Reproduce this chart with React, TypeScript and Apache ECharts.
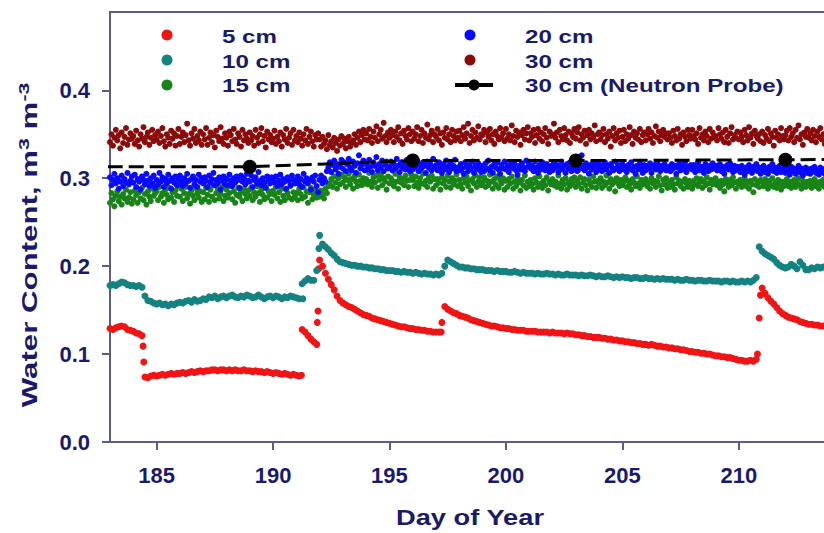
import React, { useEffect, useRef } from "react";
import * as echarts from "echarts";

// ---- data ----
// Sensor series start at day 183. Smooth series: step 0.125 day (8 values per row = 1 day).
// Noisy series: step 0.0625 day (16 values per row = 1 day).
const START_DAY = 183;
const STEP_SMOOTH = 0.125;
const STEP_DENSE = 0.0625;

const cm5: (number | null)[] = [
  0.129, 0.128, 0.130, 0.131, 0.132, 0.131, 0.128, 0.127, // 183
  0.126, 0.124, 0.123, 0.121, 0.074, 0.073, 0.075, 0.076, // 184
  0.075, 0.076, 0.077, 0.076, 0.077, 0.078, 0.077, 0.078, // 185
  0.078, 0.079, 0.078, 0.079, 0.080, 0.079, 0.080, 0.081, // 186
  0.080, 0.081, 0.081, 0.082, 0.082, 0.081, 0.082, 0.082, // 187
  0.081, 0.082, 0.081, 0.082, 0.081, 0.081, 0.082, 0.081, // 188
  0.081, 0.080, 0.081, 0.080, 0.080, 0.079, 0.080, 0.079, // 189
  0.078, 0.079, 0.078, 0.077, 0.078, 0.077, 0.076, 0.077, // 190
  0.076, 0.075, 0.128, 0.125, 0.121, 0.117, 0.114, 0.111, // 191
  0.207, 0.200, 0.192, 0.185, 0.179, 0.173, 0.166, 0.161, // 192
  0.158, 0.156, 0.154, 0.153, 0.151, 0.149, 0.147, 0.145, // 193
  0.144, 0.143, 0.141, 0.140, 0.139, 0.138, 0.137, 0.136, // 194
  0.135, 0.134, 0.133, 0.132, 0.131, 0.131, 0.130, 0.129, // 195
  0.129, 0.128, 0.128, 0.127, 0.127, 0.126, 0.126, 0.125, // 196
  0.125, 0.125, 0.136, 0.154, 0.151, 0.149, 0.147, 0.146, // 197
  0.144, 0.143, 0.142, 0.141, 0.139, 0.138, 0.137, 0.136, // 198
  0.135, 0.134, 0.133, 0.132, 0.132, 0.131, 0.130, 0.130, // 199
  0.129, 0.129, 0.128, 0.128, 0.127, 0.127, 0.127, 0.126, // 200
  0.126, 0.126, 0.126, 0.125, 0.125, 0.125, 0.125, 0.124, // 201
  0.125, 0.124, 0.124, 0.124, 0.123, 0.124, 0.123, 0.123, // 202
  0.122, 0.122, 0.121, 0.121, 0.120, 0.120, 0.119, 0.119, // 203
  0.119, 0.118, 0.118, 0.117, 0.117, 0.116, 0.116, 0.115, // 204
  0.115, 0.114, 0.114, 0.113, 0.113, 0.112, 0.112, 0.111, // 205
  0.111, 0.110, 0.111, 0.110, 0.109, 0.109, 0.108, 0.108, // 206
  0.107, 0.107, 0.106, 0.106, 0.105, 0.105, 0.104, 0.103, // 207
  0.103, 0.102, 0.102, 0.101, 0.101, 0.100, 0.100, 0.099, // 208
  0.098, 0.098, 0.097, 0.097, 0.096, 0.096, 0.095, 0.094, // 209
  0.093, 0.093, 0.092, 0.092, 0.093, 0.092, 0.094, 0.141, // 210
  0.175, 0.169, 0.164, 0.160, 0.157, 0.153, 0.149, 0.146, // 211
  0.144, 0.142, 0.141, 0.140, 0.139, 0.137, 0.136, 0.135, // 212
  0.134, 0.134, 0.133, 0.133, 0.132, 0.132, 0.132, 0.131, // 213
];
// isolated readings during the wetting/drying jumps: [day, value]
const cm5Extra: [number, number][] = [
  [184.42, 0.109], [184.45, 0.091], [191.22, 0.076], [191.9, 0.136],
  [191.93, 0.149], [191.96, 0.197], [197.22, 0.125], [210.8, 0.1], [210.93, 0.167],
];

const cm10: (number | null)[] = [
  0.178, 0.179, 0.178, 0.180, 0.182, 0.181, 0.179, 0.178, // 183
  0.178, 0.177, 0.178, 0.176, 0.166, 0.161, 0.160, 0.158, // 184
  0.157, 0.158, 0.156, 0.157, 0.155, 0.157, 0.156, 0.158, // 185
  0.159, 0.158, 0.160, 0.161, 0.159, 0.162, 0.160, 0.161, // 186
  0.163, 0.162, 0.165, 0.164, 0.166, 0.163, 0.165, 0.166, // 187
  0.164, 0.166, 0.167, 0.165, 0.164, 0.166, 0.165, 0.167, // 188
  0.166, 0.164, 0.165, 0.167, 0.165, 0.163, 0.165, 0.166, // 189
  0.164, 0.166, 0.165, 0.163, 0.165, 0.164, 0.166, 0.165, // 190
  0.164, 0.163, 0.180, 0.183, 0.186, 0.184, 0.184, 0.195, // 191
  0.235, 0.225, 0.222, 0.219, 0.215, 0.212, 0.208, 0.205, // 192
  0.204, 0.203, 0.202, 0.201, 0.201, 0.200, 0.200, 0.199, // 193
  0.199, 0.198, 0.198, 0.197, 0.197, 0.196, 0.196, 0.195, // 194
  0.195, 0.195, 0.194, 0.194, 0.193, 0.194, 0.193, 0.193, // 195
  0.192, 0.193, 0.192, 0.191, 0.192, 0.191, 0.191, 0.190, // 196
  0.191, 0.190, 0.192, 0.200, 0.207, 0.205, 0.203, 0.201, // 197
  0.199, 0.199, 0.198, 0.198, 0.197, 0.197, 0.196, 0.196, // 198
  0.196, 0.195, 0.195, 0.195, 0.194, 0.195, 0.194, 0.194, // 199
  0.194, 0.193, 0.193, 0.194, 0.193, 0.192, 0.193, 0.192, // 200
  0.192, 0.192, 0.191, 0.192, 0.191, 0.191, 0.192, 0.191, // 201
  0.191, 0.190, 0.191, 0.190, 0.190, 0.191, 0.190, 0.190, // 202
  0.190, 0.189, 0.190, 0.189, 0.189, 0.190, 0.189, 0.188, // 203
  0.189, 0.188, 0.188, 0.189, 0.188, 0.187, 0.188, 0.187, // 204
  0.188, 0.187, 0.187, 0.186, 0.187, 0.187, 0.186, 0.186, // 205
  0.187, 0.186, 0.186, 0.185, 0.186, 0.185, 0.186, 0.185, // 206
  0.185, 0.185, 0.184, 0.185, 0.184, 0.184, 0.185, 0.184, // 207
  0.184, 0.183, 0.184, 0.184, 0.183, 0.183, 0.184, 0.183, // 208
  0.183, 0.183, 0.182, 0.183, 0.183, 0.182, 0.183, 0.182, // 209
  0.182, 0.183, 0.182, 0.183, 0.182, 0.184, 0.187, 0.222, // 210
  0.217, 0.214, 0.212, 0.210, 0.208, 0.204, 0.201, 0.199, // 211
  0.198, 0.199, 0.202, 0.200, 0.197, 0.205, 0.201, 0.196, // 212
  0.196, 0.198, 0.197, 0.199, 0.198, 0.199, 0.200, 0.199, // 213
];
const cm10Extra: [number, number][] = [[191.28, 0.163], [191.97, 0.22]];

const cm15: number[] = [
  0.272, 0.283, 0.276, 0.268, 0.280, 0.285, 0.274, 0.279, 0.270, 0.282, 0.277, 0.287, 0.273, 0.278, 0.284, 0.271, // 183
  0.276, 0.286, 0.281, 0.272, 0.284, 0.277, 0.289, 0.275, 0.282, 0.270, 0.285, 0.279, 0.274, 0.288, 0.280, 0.283, // 184
  0.285, 0.275, 0.290, 0.279, 0.283, 0.272, 0.287, 0.281, 0.276, 0.289, 0.278, 0.284, 0.273, 0.286, 0.280, 0.291, // 185
  0.279, 0.288, 0.274, 0.283, 0.290, 0.277, 0.282, 0.271, 0.286, 0.280, 0.275, 0.289, 0.283, 0.278, 0.285, 0.273, // 186
  0.284, 0.276, 0.289, 0.281, 0.273, 0.287, 0.279, 0.292, 0.275, 0.283, 0.288, 0.277, 0.282, 0.290, 0.274, 0.280, // 187
  0.287, 0.278, 0.283, 0.291, 0.276, 0.285, 0.272, 0.281, 0.289, 0.279, 0.284, 0.274, 0.288, 0.282, 0.277, 0.286, // 188
  0.280, 0.289, 0.275, 0.284, 0.279, 0.291, 0.283, 0.273, 0.287, 0.281, 0.276, 0.290, 0.278, 0.285, 0.282, 0.274, // 189
  0.286, 0.281, 0.290, 0.277, 0.284, 0.273, 0.288, 0.280, 0.275, 0.287, 0.283, 0.278, 0.291, 0.276, 0.284, 0.279, // 190
  0.283, 0.275, 0.288, 0.282, 0.277, 0.290, 0.279, 0.285, 0.272, 0.284, 0.289, 0.276, 0.281, 0.287, 0.278, 0.283, // 191
  0.279, 0.286, 0.282, 0.277, 0.288, 0.283, 0.291, 0.294, 0.299, 0.290, 0.302, 0.295, 0.288, 0.300, 0.293, 0.304, // 192
  0.295, 0.301, 0.290, 0.298, 0.305, 0.293, 0.299, 0.288, 0.302, 0.296, 0.291, 0.304, 0.297, 0.292, 0.300, 0.294, // 193
  0.299, 0.293, 0.306, 0.296, 0.290, 0.301, 0.295, 0.303, 0.289, 0.298, 0.304, 0.292, 0.300, 0.296, 0.287, 0.302, // 194
  0.294, 0.300, 0.297, 0.291, 0.305, 0.296, 0.288, 0.301, 0.295, 0.299, 0.292, 0.303, 0.297, 0.290, 0.298, 0.304, // 195
  0.298, 0.291, 0.302, 0.295, 0.289, 0.300, 0.294, 0.305, 0.293, 0.297, 0.290, 0.301, 0.296, 0.303, 0.288, 0.299, // 196
  0.292, 0.299, 0.295, 0.287, 0.301, 0.294, 0.298, 0.290, 0.303, 0.296, 0.289, 0.300, 0.293, 0.297, 0.304, 0.291, // 197
  0.298, 0.293, 0.288, 0.300, 0.295, 0.302, 0.291, 0.297, 0.286, 0.299, 0.294, 0.303, 0.290, 0.296, 0.301, 0.292, // 198
  0.295, 0.301, 0.290, 0.297, 0.292, 0.304, 0.296, 0.288, 0.299, 0.293, 0.302, 0.289, 0.298, 0.294, 0.300, 0.287, // 199
  0.297, 0.290, 0.299, 0.294, 0.302, 0.288, 0.296, 0.291, 0.300, 0.295, 0.286, 0.298, 0.292, 0.303, 0.289, 0.296, // 200
  0.291, 0.298, 0.293, 0.287, 0.300, 0.295, 0.290, 0.302, 0.294, 0.289, 0.297, 0.292, 0.301, 0.286, 0.296, 0.293, // 201
  0.299, 0.292, 0.296, 0.290, 0.303, 0.294, 0.288, 0.298, 0.293, 0.300, 0.287, 0.295, 0.291, 0.299, 0.294, 0.301, // 202
  0.290, 0.297, 0.293, 0.301, 0.288, 0.295, 0.299, 0.292, 0.286, 0.298, 0.294, 0.290, 0.302, 0.296, 0.289, 0.297, // 203
  0.294, 0.300, 0.289, 0.296, 0.292, 0.303, 0.295, 0.288, 0.299, 0.293, 0.297, 0.285, 0.300, 0.294, 0.291, 0.298, // 204
  0.292, 0.296, 0.301, 0.290, 0.297, 0.293, 0.287, 0.299, 0.295, 0.291, 0.302, 0.294, 0.289, 0.298, 0.293, 0.296, // 205
  0.299, 0.291, 0.295, 0.288, 0.300, 0.294, 0.297, 0.290, 0.296, 0.302, 0.292, 0.286, 0.298, 0.293, 0.300, 0.289, // 206
  0.295, 0.290, 0.298, 0.293, 0.287, 0.301, 0.294, 0.297, 0.291, 0.296, 0.288, 0.299, 0.294, 0.290, 0.297, 0.292, // 207
  0.288, 0.297, 0.293, 0.300, 0.291, 0.295, 0.299, 0.289, 0.296, 0.292, 0.301, 0.294, 0.287, 0.298, 0.293, 0.296, // 208
  0.300, 0.292, 0.296, 0.289, 0.297, 0.293, 0.285, 0.299, 0.294, 0.290, 0.298, 0.292, 0.301, 0.295, 0.288, 0.296, // 209
  0.293, 0.298, 0.290, 0.295, 0.300, 0.291, 0.296, 0.288, 0.297, 0.293, 0.284, 0.299, 0.292, 0.295, 0.290, 0.298, // 210
  0.296, 0.291, 0.299, 0.294, 0.288, 0.297, 0.292, 0.300, 0.290, 0.295, 0.289, 0.298, 0.293, 0.287, 0.296, 0.291, // 211
  0.294, 0.299, 0.291, 0.296, 0.289, 0.293, 0.298, 0.290, 0.295, 0.300, 0.292, 0.288, 0.297, 0.293, 0.290, 0.296, // 212
  0.292, 0.297, 0.289, 0.294, 0.299, 0.291, 0.295, 0.288, 0.296, 0.293, 0.298, 0.290, 0.294, 0.289, 0.297, 0.292, // 213
];

const cm20: number[] = [
  0.301, 0.292, 0.298, 0.305, 0.294, 0.300, 0.288, 0.296, 0.303, 0.291, 0.299, 0.295, 0.306, 0.293, 0.297, 0.302, // 183
  0.295, 0.304, 0.290, 0.299, 0.296, 0.287, 0.302, 0.298, 0.293, 0.305, 0.297, 0.291, 0.300, 0.294, 0.303, 0.289, // 184
  0.298, 0.293, 0.306, 0.296, 0.301, 0.290, 0.299, 0.294, 0.304, 0.297, 0.288, 0.300, 0.295, 0.302, 0.292, 0.298, // 185
  0.303, 0.296, 0.291, 0.300, 0.294, 0.305, 0.297, 0.289, 0.299, 0.302, 0.293, 0.298, 0.290, 0.304, 0.296, 0.300, // 186
  0.294, 0.301, 0.297, 0.290, 0.303, 0.295, 0.299, 0.306, 0.292, 0.298, 0.294, 0.301, 0.287, 0.297, 0.302, 0.293, // 187
  0.299, 0.292, 0.304, 0.297, 0.291, 0.300, 0.295, 0.302, 0.298, 0.289, 0.303, 0.296, 0.300, 0.293, 0.305, 0.297, // 188
  0.296, 0.303, 0.290, 0.298, 0.301, 0.294, 0.307, 0.297, 0.292, 0.300, 0.295, 0.289, 0.302, 0.298, 0.294, 0.301, // 189
  0.300, 0.295, 0.302, 0.291, 0.297, 0.304, 0.293, 0.299, 0.296, 0.288, 0.301, 0.297, 0.292, 0.303, 0.298, 0.294, // 190
  0.297, 0.302, 0.293, 0.299, 0.290, 0.305, 0.296, 0.300, 0.294, 0.298, 0.287, 0.301, 0.296, 0.303, 0.291, 0.284, // 191
  0.298, 0.303, 0.294, 0.300, 0.296, 0.308, 0.312, 0.318, 0.307, 0.315, 0.320, 0.310, 0.316, 0.305, 0.313, 0.321, // 192
  0.311, 0.318, 0.308, 0.316, 0.322, 0.312, 0.309, 0.319, 0.314, 0.306, 0.317, 0.326, 0.311, 0.315, 0.320, 0.309, // 193
  0.316, 0.310, 0.321, 0.313, 0.307, 0.318, 0.314, 0.324, 0.309, 0.316, 0.312, 0.320, 0.308, 0.315, 0.319, 0.311, // 194
  0.313, 0.319, 0.309, 0.316, 0.311, 0.322, 0.314, 0.307, 0.318, 0.312, 0.316, 0.310, 0.321, 0.313, 0.308, 0.317, // 195
  0.310, 0.316, 0.313, 0.320, 0.308, 0.315, 0.311, 0.318, 0.314, 0.306, 0.319, 0.312, 0.316, 0.309, 0.322, 0.313, // 196
  0.315, 0.309, 0.318, 0.312, 0.306, 0.316, 0.310, 0.320, 0.313, 0.307, 0.317, 0.311, 0.314, 0.321, 0.308, 0.312, // 197
  0.309, 0.316, 0.311, 0.305, 0.318, 0.313, 0.308, 0.315, 0.311, 0.319, 0.306, 0.314, 0.310, 0.317, 0.312, 0.307, // 198
  0.314, 0.308, 0.317, 0.311, 0.320, 0.309, 0.313, 0.306, 0.316, 0.312, 0.318, 0.310, 0.305, 0.315, 0.311, 0.319, // 199
  0.310, 0.315, 0.307, 0.313, 0.318, 0.311, 0.316, 0.309, 0.304, 0.314, 0.310, 0.317, 0.312, 0.308, 0.320, 0.313, // 200
  0.316, 0.311, 0.314, 0.308, 0.319, 0.312, 0.306, 0.315, 0.310, 0.318, 0.313, 0.309, 0.316, 0.311, 0.307, 0.314, // 201
  0.309, 0.317, 0.312, 0.315, 0.307, 0.313, 0.319, 0.310, 0.314, 0.306, 0.316, 0.311, 0.318, 0.308, 0.313, 0.310, // 202
  0.313, 0.308, 0.316, 0.311, 0.326, 0.314, 0.309, 0.317, 0.312, 0.305, 0.315, 0.310, 0.318, 0.313, 0.307, 0.316, // 203
  0.311, 0.315, 0.308, 0.313, 0.318, 0.310, 0.314, 0.306, 0.316, 0.312, 0.309, 0.319, 0.311, 0.315, 0.308, 0.313, // 204
  0.316, 0.310, 0.313, 0.307, 0.315, 0.311, 0.318, 0.309, 0.313, 0.305, 0.314, 0.310, 0.317, 0.312, 0.306, 0.315, // 205
  0.309, 0.314, 0.311, 0.317, 0.306, 0.312, 0.315, 0.310, 0.318, 0.313, 0.308, 0.314, 0.311, 0.316, 0.309, 0.312, // 206
  0.313, 0.308, 0.316, 0.311, 0.314, 0.305, 0.312, 0.317, 0.309, 0.314, 0.310, 0.318, 0.307, 0.313, 0.311, 0.315, // 207
  0.310, 0.315, 0.307, 0.312, 0.318, 0.309, 0.313, 0.311, 0.306, 0.316, 0.312, 0.308, 0.314, 0.310, 0.317, 0.311, // 208
  0.314, 0.309, 0.312, 0.316, 0.308, 0.313, 0.305, 0.311, 0.315, 0.310, 0.317, 0.312, 0.307, 0.314, 0.309, 0.313, // 209
  0.311, 0.307, 0.314, 0.309, 0.304, 0.312, 0.308, 0.315, 0.310, 0.306, 0.313, 0.309, 0.316, 0.308, 0.312, 0.305, // 210
  0.310, 0.314, 0.307, 0.311, 0.305, 0.313, 0.309, 0.316, 0.308, 0.312, 0.306, 0.310, 0.314, 0.307, 0.311, 0.309, // 211
  0.306, 0.312, 0.309, 0.304, 0.313, 0.308, 0.311, 0.305, 0.310, 0.314, 0.307, 0.311, 0.303, 0.309, 0.312, 0.306, // 212
  0.310, 0.305, 0.311, 0.308, 0.313, 0.306, 0.309, 0.304, 0.312, 0.307, 0.310, 0.305, 0.311, 0.308, 0.303, 0.309, // 213
];

const cm30: number[] = [
  0.341, 0.350, 0.337, 0.346, 0.355, 0.343, 0.349, 0.334, 0.352, 0.340, 0.347, 0.357, 0.338, 0.344, 0.351, 0.345, // 183
  0.348, 0.339, 0.354, 0.343, 0.336, 0.350, 0.345, 0.358, 0.341, 0.347, 0.352, 0.338, 0.346, 0.355, 0.342, 0.349, // 184
  0.344, 0.353, 0.340, 0.348, 0.357, 0.342, 0.336, 0.350, 0.346, 0.339, 0.354, 0.345, 0.351, 0.337, 0.348, 0.356, // 185
  0.339, 0.347, 0.352, 0.341, 0.349, 0.362, 0.343, 0.337, 0.351, 0.345, 0.356, 0.340, 0.348, 0.343, 0.353, 0.338, // 186
  0.350, 0.344, 0.357, 0.338, 0.346, 0.352, 0.341, 0.349, 0.335, 0.354, 0.347, 0.342, 0.358, 0.345, 0.339, 0.351, // 187
  0.346, 0.337, 0.353, 0.349, 0.342, 0.356, 0.344, 0.339, 0.351, 0.347, 0.336, 0.355, 0.343, 0.350, 0.345, 0.340, // 188
  0.352, 0.343, 0.348, 0.337, 0.355, 0.346, 0.340, 0.350, 0.357, 0.342, 0.348, 0.335, 0.353, 0.344, 0.349, 0.341, // 189
  0.345, 0.354, 0.339, 0.347, 0.342, 0.352, 0.336, 0.349, 0.344, 0.356, 0.340, 0.346, 0.351, 0.338, 0.355, 0.343, // 190
  0.348, 0.341, 0.352, 0.345, 0.337, 0.350, 0.343, 0.356, 0.339, 0.347, 0.353, 0.342, 0.336, 0.349, 0.344, 0.351, // 191
  0.344, 0.336, 0.347, 0.339, 0.343, 0.333, 0.349, 0.338, 0.342, 0.335, 0.346, 0.340, 0.331, 0.344, 0.337, 0.348, // 192
  0.339, 0.345, 0.334, 0.342, 0.347, 0.336, 0.340, 0.343, 0.350, 0.338, 0.346, 0.353, 0.341, 0.349, 0.355, 0.344, // 193
  0.351, 0.343, 0.356, 0.347, 0.340, 0.353, 0.346, 0.359, 0.342, 0.350, 0.355, 0.345, 0.363, 0.348, 0.341, 0.352, // 194
  0.346, 0.355, 0.349, 0.341, 0.353, 0.347, 0.358, 0.343, 0.351, 0.339, 0.354, 0.348, 0.344, 0.357, 0.350, 0.342, // 195
  0.353, 0.345, 0.350, 0.358, 0.342, 0.348, 0.355, 0.340, 0.351, 0.346, 0.361, 0.344, 0.349, 0.354, 0.341, 0.350, // 196
  0.347, 0.356, 0.343, 0.351, 0.338, 0.352, 0.346, 0.357, 0.344, 0.350, 0.341, 0.355, 0.348, 0.343, 0.353, 0.346, // 197
  0.354, 0.342, 0.349, 0.358, 0.345, 0.351, 0.362, 0.340, 0.348, 0.355, 0.343, 0.352, 0.346, 0.359, 0.344, 0.350, // 198
  0.349, 0.355, 0.341, 0.352, 0.347, 0.356, 0.343, 0.350, 0.339, 0.353, 0.348, 0.344, 0.357, 0.346, 0.351, 0.342, // 199
  0.356, 0.345, 0.350, 0.343, 0.360, 0.348, 0.341, 0.354, 0.347, 0.352, 0.338, 0.349, 0.355, 0.344, 0.351, 0.358, // 200
  0.343, 0.351, 0.347, 0.355, 0.340, 0.349, 0.356, 0.345, 0.352, 0.342, 0.350, 0.357, 0.346, 0.339, 0.353, 0.348, // 201
  0.350, 0.362, 0.346, 0.352, 0.341, 0.355, 0.348, 0.344, 0.357, 0.349, 0.343, 0.353, 0.340, 0.351, 0.347, 0.356, // 202
  0.345, 0.352, 0.358, 0.343, 0.350, 0.346, 0.354, 0.339, 0.349, 0.355, 0.344, 0.351, 0.347, 0.360, 0.342, 0.350, // 203
  0.352, 0.344, 0.349, 0.356, 0.341, 0.350, 0.345, 0.353, 0.336, 0.348, 0.357, 0.343, 0.351, 0.346, 0.354, 0.340, // 204
  0.347, 0.355, 0.342, 0.350, 0.345, 0.358, 0.349, 0.339, 0.353, 0.346, 0.351, 0.344, 0.356, 0.341, 0.349, 0.352, // 205
  0.343, 0.350, 0.356, 0.345, 0.352, 0.340, 0.348, 0.359, 0.346, 0.353, 0.342, 0.349, 0.355, 0.347, 0.351, 0.344, // 206
  0.351, 0.346, 0.340, 0.354, 0.348, 0.343, 0.356, 0.345, 0.350, 0.338, 0.352, 0.347, 0.342, 0.355, 0.349, 0.345, // 207
  0.355, 0.348, 0.344, 0.351, 0.339, 0.357, 0.346, 0.350, 0.343, 0.353, 0.348, 0.341, 0.356, 0.345, 0.352, 0.347, // 208
  0.348, 0.343, 0.357, 0.350, 0.345, 0.352, 0.341, 0.355, 0.347, 0.340, 0.351, 0.358, 0.344, 0.349, 0.346, 0.353, // 209
  0.344, 0.352, 0.347, 0.341, 0.355, 0.349, 0.343, 0.358, 0.346, 0.351, 0.339, 0.354, 0.348, 0.345, 0.350, 0.342, // 210
  0.353, 0.340, 0.349, 0.345, 0.356, 0.342, 0.351, 0.347, 0.337, 0.354, 0.346, 0.350, 0.343, 0.357, 0.348, 0.344, // 211
  0.349, 0.354, 0.343, 0.357, 0.347, 0.351, 0.341, 0.355, 0.346, 0.360, 0.344, 0.350, 0.338, 0.352, 0.347, 0.356, // 212
  0.346, 0.351, 0.343, 0.355, 0.348, 0.341, 0.353, 0.347, 0.357, 0.344, 0.350, 0.339, 0.352, 0.346, 0.355, 0.349, // 213
];

const neutronDays = [182, 189, 196, 203, 212, 219];
const neutronValues = [0.313, 0.313, 0.32, 0.32, 0.321, 0.322];

const xTicks = [185, 190, 195, 200, 205, 210];
const yTicks = [0, 0.1, 0.2, 0.3, 0.4];

const seriesNames = ["5 cm", "10 cm", "15 cm", "20 cm", "30 cm", "30 cm (Neutron Probe)"];
const seriesColors = ["#f01414", "#158282", "#188418", "#0a0aff", "#8b0a0a", "#000000"];

// ---- styling ----
const NAVY = "#1a1a6b";
const AXIS = "#5c5c8c";
const FONT = '"Liberation Sans", Arial, Helvetica, sans-serif';

function toPoints(values: (number | null)[], step: number, extra: [number, number][] = []) {
  const pts: [number, number][] = [];
  values.forEach((v, i) => {
    if (v !== null) pts.push([START_DAY + i * step, v]);
  });
  return pts.concat(extra);
}

export default function App() {
  const ref = useRef<HTMLDivElement>(null);
  useEffect(() => {
    if (!ref.current) return;
    const chart = echarts.init(ref.current, null, { renderer: "svg" });

    const scatter = (idx: number, data: [number, number][], size: number) => ({
      name: seriesNames[idx],
      type: "scatter",
      data,
      symbol: "circle",
      symbolSize: size,
      itemStyle: { color: seriesColors[idx], opacity: 1 },
      clip: true,
      silent: true,
    });

    const legendText = (x: number, y: number, text: string) => ({
      type: "text",
      x,
      y,
      scaleX: 1.27,
      style: {
        text,
        fontSize: 19,
        fontWeight: "bold",
        fontFamily: FONT,
        fill: NAVY,
        align: "left",
        verticalAlign: "middle",
      },
    });
    const legendDot = (x: number, y: number, color: string, r = 5.5) => ({
      type: "circle",
      shape: { cx: x, cy: y, r },
      style: { fill: color },
    });

    chart.setOption({
      animation: false,
      backgroundColor: "#ffffff",
      grid: {
        left: 110,
        top: 12,
        right: 8,
        bottom: 91,
        show: true,
        borderColor: AXIS,
        borderWidth: 2,
        outerBoundsMode: "none",
      },
      xAxis: {
        type: "value",
        min: 183,
        max: 214,
        axisLine: { show: true, onZero: false, lineStyle: { color: AXIS, width: 2 } },
        axisTick: { show: true, length: 8, customValues: xTicks, lineStyle: { color: AXIS, width: 2 } },
        axisLabel: {
          customValues: xTicks,
          fontSize: 22,
          fontWeight: "bold",
          fontFamily: FONT,
          color: NAVY,
          margin: 22,
        },
        splitLine: { show: false },
      },
      yAxis: {
        type: "value",
        min: 0,
        max: 0.489,
        axisLine: { show: true, lineStyle: { color: AXIS, width: 2 } },
        axisTick: { show: true, length: 8, customValues: yTicks, lineStyle: { color: AXIS, width: 2 } },
        axisLabel: {
          customValues: yTicks,
          formatter: (v: number) => v.toFixed(1),
          fontSize: 22,
          fontWeight: "bold",
          fontFamily: FONT,
          color: NAVY,
          margin: 20,
        },
        splitLine: { show: false },
      },
      series: [
        scatter(0, toPoints(cm5, STEP_SMOOTH, cm5Extra), 7),
        scatter(1, toPoints(cm10, STEP_SMOOTH, cm10Extra), 7),
        scatter(2, toPoints(cm15, STEP_DENSE), 6),
        scatter(3, toPoints(cm20, STEP_DENSE), 6),
        scatter(4, toPoints(cm30, STEP_DENSE), 6),
        {
          name: seriesNames[5],
          type: "line",
          data: neutronDays.map((d, i) => [d, neutronValues[i]]),
          symbol: "circle",
          symbolSize: 14,
          showSymbol: true,
          itemStyle: { color: "#000" },
          lineStyle: { color: "#000", width: 3, type: [15, 6] },
          clip: true,
          silent: true,
          z: 5,
        },
      ],
      graphic: [
        // legend, left column
        legendDot(167, 35, seriesColors[0]),
        legendDot(167, 60, seriesColors[1]),
        legendDot(167, 85, seriesColors[2]),
        legendText(222, 36.5, seriesNames[0]),
        legendText(222, 61, seriesNames[1]),
        legendText(222, 85, seriesNames[2]),
        // legend, right column
        legendDot(470, 35, seriesColors[3]),
        legendDot(470, 60, seriesColors[4]),
        {
          type: "line",
          shape: { x1: 455, y1: 85, x2: 493, y2: 85 },
          style: { stroke: "#000", lineWidth: 4 },
        },
        legendDot(474, 85, "#000", 5.5),
        legendText(525, 36.5, seriesNames[3]),
        legendText(525, 61, seriesNames[4]),
        legendText(525, 85, seriesNames[5]),
        // axis titles
        {
          type: "text",
          x: 470,
          y: 517,
          scaleX: 1.24,
          style: {
            text: "Day of Year",
            fontSize: 22,
            fontWeight: "bold",
            fontFamily: FONT,
            fill: NAVY,
            align: "center",
            verticalAlign: "middle",
          },
        },
        {
          type: "text",
          x: 30,
          y: 245,
          rotation: Math.PI / 2,
          scaleX: 1.42,
          style: {
            text: "Water Content, m{sup|3} m{sup|-3}",
            fontSize: 22,
            fontWeight: "bold",
            fontFamily: FONT,
            fill: NAVY,
            lineHeight: 28,
            align: "center",
            verticalAlign: "middle",
            rich: {
              sup: {
                fontSize: 15,
                fontWeight: "bold",
                fontFamily: FONT,
                fill: NAVY,
                lineHeight: 16,
                verticalAlign: "top",
              },
            },
          },
        },
      ],
    });
    return () => chart.dispose();
  }, []);

  return (
    <div
      style={{
        position: "fixed",
        left: 0,
        top: 0,
        width: 824,
        height: 533,
        overflow: "hidden",
        background: "#fff",
      }}
    >
      <div ref={ref} style={{ width: 840, height: 533 }} />
    </div>
  );
}
